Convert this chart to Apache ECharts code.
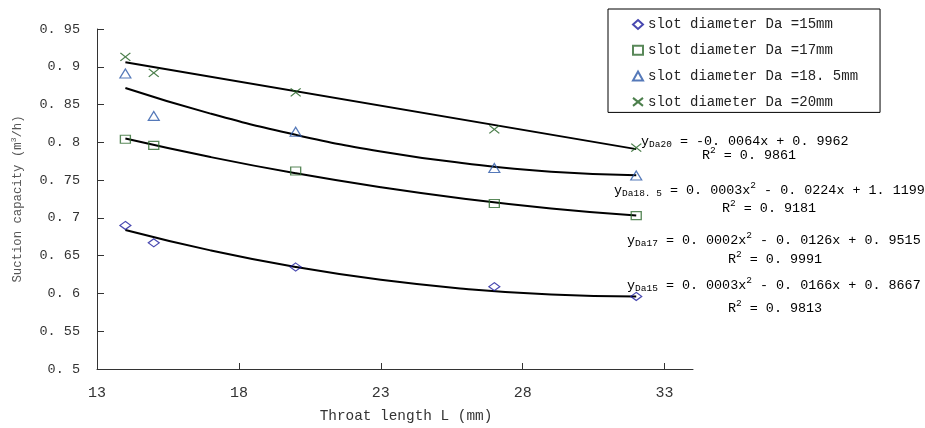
<!DOCTYPE html>
<html>
<head>
<meta charset="utf-8">
<script src="https://cdn.jsdelivr.net/npm/echarts@6/dist/echarts.min.js"></script>
<style>
  html, body { margin: 0; padding: 0; background: #fff; }
  #chart { width: 925px; height: 428px; }
</style>
</head>
<body>
<div id="chart"></div>
<script>
// throat length L (mm) of the measured points
const throatLength = [14, 15, 20, 27, 32];

// suction capacity (m3/h) per slot diameter
const da15 = [0.690, 0.667, 0.635, 0.609, 0.596];
const da17 = [0.804, 0.796, 0.762, 0.719, 0.703];
const da185 = [0.891, 0.835, 0.814, 0.766, 0.756];
const da20 = [0.913, 0.892, 0.866, 0.817, 0.793];

// trend lines
const trendX = [14, 17, 20, 23, 26, 29, 32];
const trend15 = [0.684, 0.657, 0.635, 0.618, 0.606, 0.5985, 0.596];
const trend17 = [0.805, 0.7805, 0.759, 0.7405, 0.725, 0.7125, 0.703];
const trend185 = [0.872, 0.838, 0.810, 0.788, 0.772, 0.761, 0.7565];
const trend20X = [14, 32];
const trend20 = [0.906, 0.791];

const xTicks = [13, 18, 23, 28, 33];
const yTicks = [0.5, 0.55, 0.6, 0.65, 0.7, 0.75, 0.8, 0.85, 0.9, 0.95];

const seriesNames = [
  'slot diameter Da =15mm',
  'slot diameter Da =17mm',
  'slot diameter Da =18. 5mm',
  'slot diameter Da =20mm'
];

const MONO = '"Liberation Mono", "DejaVu Sans Mono", monospace';
const crossPath = 'path://M0,0L10,8M10,0L0,8';

const pair = (xs, ys) => xs.map((x, i) => [x, ys[i]]);

const chart = echarts.init(document.getElementById('chart'));

function scatter(name, data, symbol, size, color) {
  return {
    name,
    type: 'scatter',
    data: pair(throatLength, data),
    symbol,
    symbolSize: size,
    itemStyle: { color: 'rgba(0,0,0,0)', borderColor: color, borderWidth: 1.2 },
    z: 3
  };
}

function trend(xs, ys) {
  return {
    type: 'line',
    data: pair(xs, ys),
    smooth: 0.5,
    showSymbol: false,
    silent: true,
    lineStyle: { color: '#000', width: 2 },
    z: 2
  };
}

const eqRich = {
  t: { fontFamily: MONO, fontSize: 13.4, color: '#222' },
  s: { fontFamily: MONO, fontSize: 9.5, color: '#222', padding: [6, 0, 0, 0] },
  p: { fontFamily: MONO, fontSize: 9.5, color: '#222', padding: [0, 0, 9, 0] }
};

function eqText(x, y, text) {
  return {
    type: 'text',
    x,
    y,
    style: { text, rich: eqRich, verticalAlign: 'middle' }
  };
}

chart.setOption({
  animation: false,
  grid: { left: 97, right: 232, top: 29, bottom: 55 },
  legend: {
    data: seriesNames,
    orient: 'vertical',
    left: 608,
    top: 9,
    itemWidth: 10,
    itemHeight: 9,
    itemGap: 11.8,
    padding: [8.5, 22, 3.5, 24],
    borderColor: '#000',
    borderWidth: 1,
    selectedMode: false,
    textStyle: { fontFamily: MONO, fontSize: 14, color: '#222' }
  },
  xAxis: {
    type: 'value',
    min: 13,
    max: 34,
    name: 'Throat length L (mm)',
    nameLocation: 'middle',
    nameGap: 40,
    nameTextStyle: { fontFamily: MONO, fontSize: 14.4, color: '#333', padding: [0, 0, 0, 22] },
    axisLine: { lineStyle: { color: '#333', width: 1 } },
    axisTick: { inside: true, length: 6, customValues: xTicks, lineStyle: { color: '#333' } },
    axisLabel: { customValues: xTicks, margin: 17, fontFamily: MONO, fontSize: 15, color: '#333' },
    splitLine: { show: false }
  },
  yAxis: {
    type: 'value',
    min: 0.5,
    max: 0.95,
    name: 'Suction capacity (m{p|3}/h)',
    nameLocation: 'middle',
    nameGap: 71,
    nameTextStyle: {
      fontFamily: MONO, fontSize: 12.3, color: '#555',
      rich: { p: { fontFamily: MONO, fontSize: 8, color: '#555', padding: [0, 0, 8, 0] } }
    },
    axisLine: { show: true, lineStyle: { color: '#333', width: 1 } },
    axisTick: { show: true, inside: true, length: 7, customValues: yTicks, lineStyle: { color: '#333' } },
    axisLabel: {
      customValues: yTicks,
      margin: 17,
      fontFamily: MONO,
      fontSize: 13.5,
      color: '#333',
      formatter: v => String(+v.toFixed(2)).replace('.', '. ')
    },
    splitLine: { show: false }
  },
  graphic: [
    eqText(641, 141, '{t|y}{s|Da20}{t| = -0. 0064x + 0. 9962}'),
    eqText(702, 155, '{t|R}{p|2}{t| = 0. 9861}'),
    eqText(614, 190, '{t|y}{s|Da18. 5}{t| = 0. 0003x}{p|2}{t| - 0. 0224x + 1. 1199}'),
    eqText(722, 208, '{t|R}{p|2}{t| = 0. 9181}'),
    eqText(627, 240, '{t|y}{s|Da17}{t| = 0. 0002x}{p|2}{t| - 0. 0126x + 0. 9515}'),
    eqText(728, 259, '{t|R}{p|2}{t| = 0. 9991}'),
    eqText(627, 285, '{t|y}{s|Da15}{t| = 0. 0003x}{p|2}{t| - 0. 0166x + 0. 8667}'),
    eqText(728, 308, '{t|R}{p|2}{t| = 0. 9813}')
  ],
  series: [
    scatter(seriesNames[0], da15, 'diamond', [11, 8], '#1a1a9c'),
    scatter(seriesNames[1], da17, 'rect', [10, 8], '#2f6a2f'),
    scatter(seriesNames[2], da185, 'triangle', [11, 9], '#2a58a8'),
    scatter(seriesNames[3], da20, crossPath, [10, 8], '#1f5f1f'),
    trend(trendX, trend15),
    trend(trendX, trend17),
    trend(trendX, trend185),
    trend(trend20X, trend20)
  ]
});
</script>
</body>
</html>
